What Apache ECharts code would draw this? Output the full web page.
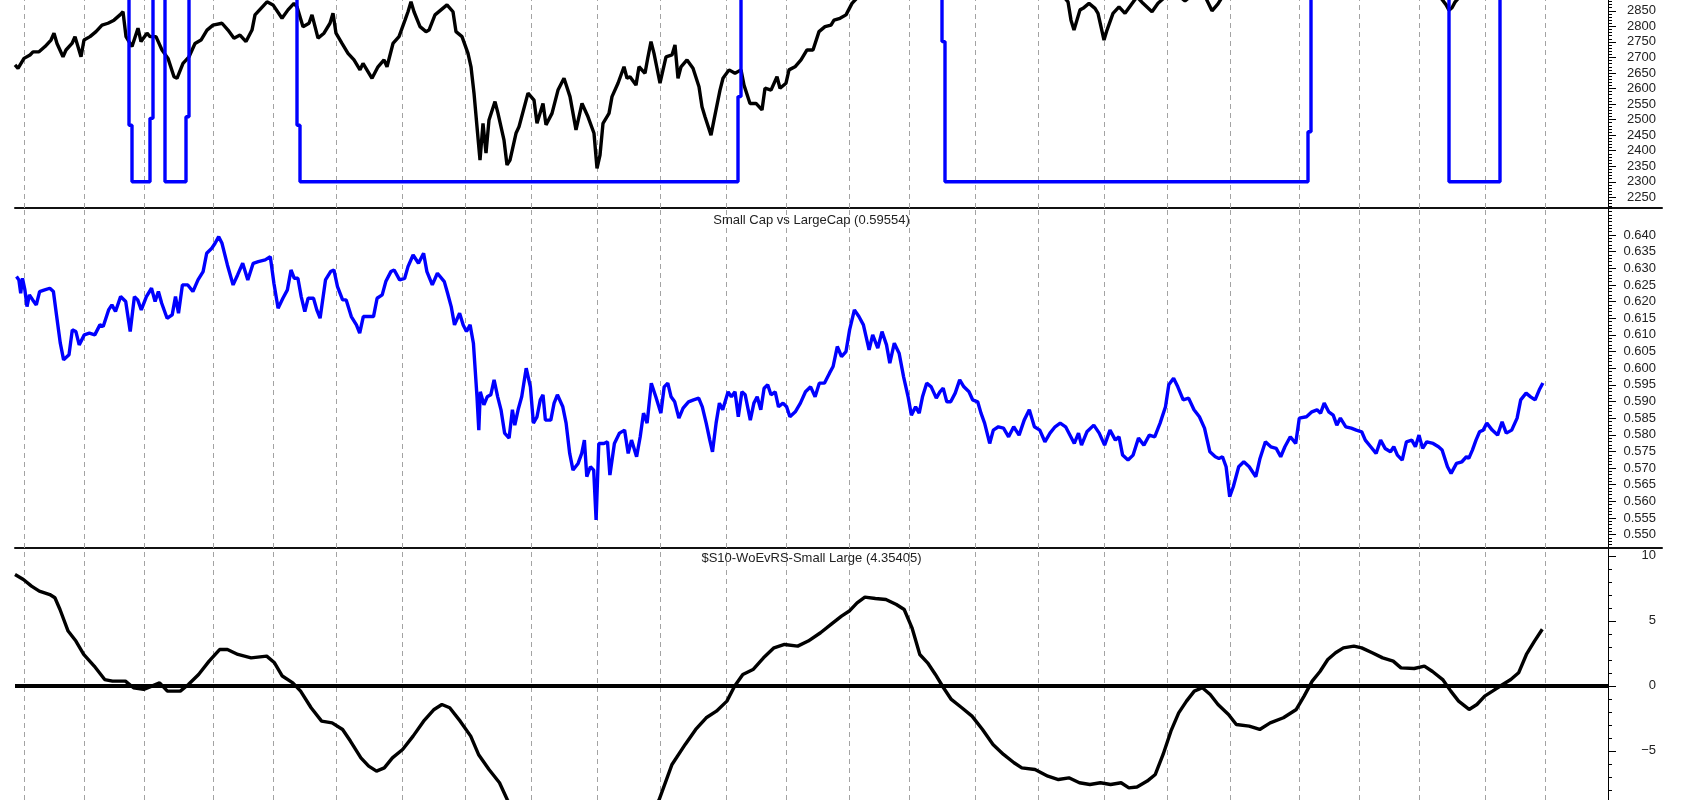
<!DOCTYPE html>
<html>
<head>
<meta charset="utf-8">
<script src="https://cdn.jsdelivr.net/npm/echarts@6/dist/echarts.min.js"></script>
<style>
html,body{margin:0;padding:0;background:#fff;}
#c{width:1691px;height:800px;}
</style>
</head>
<body>
<div id="c"></div>
<script>
// ---- Data (trading-day index, value) ----
const priceSeries = [[0,2676],[1,2665],[3,2697],[5,2708],[6,2718],[8,2718],[10,2735],[12,2756],[13,2778],[14,2745],[16,2702],[17,2724],[19,2745],[20,2767],[22,2702],[23,2756],[25,2767],[27,2783],[29,2804],[31,2810],[33,2820],[35,2837],[36,2847],[37,2767],[39,2735],[41,2794],[42,2751],[44,2778],[45,2767],[47,2767],[49,2724],[51,2697],[53,2638],[54,2633],[56,2681],[58,2702],[60,2745],[62,2756],[64,2788],[66,2804],[69,2810],[71,2788],[73,2762],[75,2772],[77,2751],[79,2788],[80,2837],[82,2858],[84,2879],[86,2869],[89,2826],[91,2853],[93,2874],[94,2863],[96,2799],[98,2810],[99,2837],[101,2762],[103,2778],[105,2810],[106,2842],[107,2778],[109,2745],[111,2713],[113,2692],[115,2660],[116,2681],[119,2633],[121,2670],[123,2692],[124,2670],[126,2745],[128,2767],[130,2820],[131,2847],[132,2879],[133,2847],[135,2799],[137,2783],[138,2788],[140,2837],[142,2853],[144,2869],[146,2847],[147,2783],[149,2767],[151,2713],[152,2670],[153,2585],[154,2477],[155,2370],[156,2488],[157,2392],[158,2499],[160,2558],[161,2520],[163,2434],[164,2354],[165,2370],[167,2456],[168,2477],[171,2585],[173,2563],[174,2488],[176,2552],[177,2483],[179,2520],[181,2595],[183,2633],[185,2574],[187,2467],[189,2552],[191,2509],[193,2456],[194,2343],[195,2386],[196,2488],[198,2520],[199,2574],[201,2617],[203,2670],[204,2633],[205,2638],[207,2611],[208,2670],[210,2649],[211,2702],[212,2751],[213,2713],[215,2617],[217,2702],[219,2708],[220,2740],[221,2633],[222,2670],[224,2692],[226,2665],[228,2606],[229,2541],[230,2509],[232,2450],[233,2499],[235,2595],[236,2633],[238,2660],[240,2649],[242,2660],[243,2611],[245,2552],[247,2552],[249,2531],[250,2601],[252,2595],[254,2638],[255,2601],[257,2617],[258,2660],[260,2670],[262,2692],[264,2724],[266,2724],[268,2783],[270,2799],[272,2804],[273,2820],[275,2826],[277,2837],[279,2874],[282,2905],[290,2935],[300,2955],[310,2965],[320,2985],[330,2990],[340,2965],[347,2925],[351,2879],[352,2820],[353,2788],[355,2853],[356,2858],[358,2874],[360,2858],[361,2842],[363,2756],[364,2788],[366,2842],[368,2863],[370,2842],[372,2869],[374,2895],[376,2874],[379,2847],[381,2874],[384,2900],[387,2905],[390,2882],[393,2905],[396,2910],[399,2850],[401,2872],[404,2920],[415,2950],[430,2975],[445,2990],[460,2960],[470,2925],[475,2895],[477,2870],[478,2852],[479,2860],[480,2878],[482,2900],[490,2935],[500,2960],[509,2985]];

const signalSeries = [[0,3000],[38,2482],[39,2300],[45,2504],[46,3000],[50,2300],[57,2509],[58,3000],[94,2482],[95,2300],[241,2574],[242,3000],[309,2751],[310,2300],[431,2461],[432,3000],[478,2300],[495,3000],[509,3000]];

const ratioSeries = [[0.5,0.6275],[1.3,0.6265],[1.9,0.6225],[2.5,0.6270],[3.3,0.6235],[4.0,0.6185],[4.8,0.6220],[5.9,0.6205],[7.1,0.6190],[8.2,0.6230],[9.9,0.6235],[11.6,0.6240],[12.8,0.6230],[13.9,0.6155],[15.1,0.6075],[16.2,0.6025],[18.0,0.6040],[19.1,0.6115],[20.3,0.6110],[21.4,0.6070],[23.1,0.6100],[24.8,0.6105],[26.6,0.6100],[28.3,0.6130],[29.4,0.6125],[31.2,0.6175],[32.3,0.6190],[33.5,0.6170],[35.2,0.6215],[36.9,0.6200],[38.4,0.6110],[39.8,0.6215],[40.9,0.6205],[42.1,0.6175],[43.8,0.6215],[45.5,0.6240],[46.7,0.6200],[47.8,0.6230],[48.9,0.6195],[50.7,0.6150],[52.4,0.6160],[53.5,0.6215],[54.5,0.6165],[55.8,0.6250],[57.6,0.6250],[59.3,0.6230],[61.0,0.6265],[62.7,0.6290],[63.9,0.6345],[65.6,0.6360],[66.7,0.6375],[67.9,0.6395],[69.0,0.6375],[70.8,0.6310],[72.7,0.6250],[74.2,0.6280],[75.9,0.6315],[77.6,0.6265],[79.4,0.6315],[81.1,0.6320],[83.4,0.6325],[85.1,0.6335],[86.3,0.6255],[87.7,0.6180],[89.3,0.6210],[90.8,0.6235],[92.0,0.6295],[93.1,0.6270],[94.3,0.6270],[95.4,0.6215],[96.6,0.6170],[97.7,0.6210],[99.5,0.6210],[100.6,0.6175],[101.7,0.6150],[103.5,0.6265],[105.2,0.6290],[106.3,0.6295],[107.5,0.6245],[109.2,0.6205],[110.4,0.6205],[112.1,0.6155],[113.8,0.6130],[114.9,0.6105],[116.1,0.6155],[117.8,0.6155],[119.5,0.6155],[120.7,0.6210],[122.4,0.6220],[123.6,0.6260],[125.3,0.6290],[126.4,0.6295],[128.2,0.6265],[129.9,0.6270],[131.0,0.6305],[132.7,0.6340],[134.5,0.6315],[136.2,0.6345],[137.3,0.6290],[139.1,0.6250],[140.8,0.6285],[143.1,0.6260],[144.2,0.6225],[145.4,0.6185],[146.5,0.6130],[148.2,0.6165],[149.4,0.6130],[150.5,0.6110],[151.7,0.6130],[152.8,0.6075],[153.4,0.5995],[154.0,0.5914],[154.6,0.5814],[155.1,0.5929],[156.3,0.5890],[157.4,0.5914],[158.6,0.5920],[159.7,0.5965],[160.9,0.5914],[162.0,0.5875],[163.2,0.5805],[164.7,0.5790],[165.8,0.5875],[166.6,0.5829],[167.7,0.5875],[168.9,0.5914],[170.4,0.6000],[171.8,0.5944],[172.8,0.5835],[174.0,0.5854],[175.1,0.5905],[176.0,0.5920],[176.8,0.5844],[178.6,0.5844],[179.7,0.5895],[180.8,0.5920],[182.6,0.5884],[183.7,0.5835],[184.9,0.5744],[186.0,0.5694],[187.7,0.5714],[188.9,0.5744],[189.8,0.5784],[190.6,0.5674],[191.8,0.5704],[192.9,0.5694],[193.7,0.5544],[194.6,0.5774],[196.3,0.5774],[197.5,0.5779],[198.3,0.5679],[199.8,0.5774],[201.5,0.5805],[203.2,0.5814],[204.4,0.5744],[205.5,0.5784],[207.2,0.5734],[208.4,0.5794],[209.5,0.5865],[210.7,0.5835],[212.1,0.5955],[213.6,0.5914],[215.3,0.5865],[216.4,0.5944],[217.6,0.5955],[218.7,0.5914],[219.9,0.5899],[221.3,0.5850],[222.7,0.5880],[224.5,0.5899],[226.2,0.5905],[227.9,0.5910],[229.1,0.5884],[230.4,0.5835],[231.6,0.5784],[232.5,0.5749],[233.7,0.5835],[234.8,0.5895],[235.9,0.5875],[237.7,0.5929],[238.8,0.5914],[240.0,0.5929],[241.1,0.5854],[242.3,0.5929],[243.4,0.5920],[245.1,0.5844],[246.3,0.5895],[247.4,0.5914],[248.6,0.5875],[249.7,0.5940],[250.9,0.5950],[252.0,0.5920],[253.4,0.5929],[254.5,0.5884],[256.0,0.5895],[257.2,0.5884],[258.3,0.5854],[260.1,0.5869],[261.8,0.5895],[263.5,0.5929],[265.2,0.5944],[266.7,0.5914],[268.1,0.5955],[269.8,0.5955],[271.5,0.5985],[272.7,0.6005],[274.1,0.6065],[275.5,0.6035],[277.0,0.6050],[278.2,0.6115],[279.8,0.6175],[281.3,0.6155],[282.8,0.6130],[284.7,0.6055],[285.9,0.6100],[287.6,0.6060],[289.0,0.6110],[290.5,0.6070],[291.6,0.6015],[293.1,0.6075],[294.7,0.6045],[296.2,0.5974],[297.7,0.5914],[298.8,0.5859],[300.2,0.5884],[301.4,0.5865],[302.5,0.5914],[303.9,0.5955],[305.4,0.5944],[307.1,0.5910],[308.3,0.5929],[309.4,0.5940],[310.6,0.5899],[311.9,0.5899],[313.4,0.5925],[314.9,0.5965],[316.3,0.5944],[318.0,0.5929],[319.2,0.5905],[320.9,0.5899],[322.0,0.5865],[323.2,0.5835],[324.9,0.5774],[326.1,0.5814],[327.8,0.5824],[329.5,0.5820],[331.2,0.5794],[332.9,0.5824],[334.7,0.5799],[336.4,0.5844],[338.1,0.5875],[339.8,0.5824],[341.6,0.5814],[343.3,0.5779],[345.0,0.5805],[346.7,0.5824],[348.4,0.5835],[350.2,0.5824],[353.1,0.5774],[354.5,0.5805],[355.5,0.5769],[357.3,0.5809],[359.6,0.5829],[361.4,0.5805],[363.2,0.5769],[365.0,0.5814],[366.8,0.5784],[368.0,0.5794],[369.2,0.5739],[371.0,0.5724],[372.7,0.5739],[374.5,0.5790],[376.3,0.5769],[378.1,0.5799],[379.9,0.5794],[381.7,0.5835],[383.5,0.5884],[384.6,0.5950],[386.2,0.5970],[387.6,0.5944],[389.4,0.5905],[391.2,0.5910],[393.0,0.5875],[394.8,0.5854],[396.5,0.5820],[398.3,0.5749],[400.1,0.5734],[401.3,0.5729],[402.5,0.5734],[403.7,0.5704],[404.9,0.5614],[406.1,0.5644],[407.9,0.5704],[409.6,0.5719],[411.4,0.5704],[413.6,0.5674],[415.0,0.5729],[416.8,0.5779],[418.6,0.5764],[420.4,0.5759],[421.9,0.5734],[423.3,0.5764],[425.1,0.5794],[426.9,0.5774],[428.1,0.5850],[430.5,0.5854],[432.3,0.5869],[434.0,0.5875],[435.2,0.5865],[436.4,0.5895],[437.9,0.5869],[439.4,0.5859],[440.6,0.5829],[441.8,0.5850],[443.6,0.5824],[445.4,0.5820],[447.1,0.5814],[448.9,0.5809],[450.1,0.5784],[451.9,0.5764],[453.7,0.5744],[455.2,0.5784],[456.7,0.5759],[458.5,0.5749],[459.6,0.5764],[460.8,0.5739],[462.4,0.5724],[463.8,0.5779],[465.6,0.5784],[466.8,0.5764],[468.0,0.5799],[469.2,0.5759],[470.6,0.5779],[472.7,0.5774],[474.5,0.5764],[475.7,0.5754],[477.5,0.5704],[478.7,0.5684],[480.5,0.5714],[482.3,0.5719],[483.8,0.5734],[484.6,0.5729],[485.8,0.5754],[487.0,0.5784],[488.2,0.5809],[489.4,0.5814],[490.6,0.5835],[492.4,0.5814],[494.2,0.5799],[495.7,0.5839],[497.1,0.5805],[498.9,0.5814],[500.7,0.5850],[501.9,0.5905],[503.7,0.5925],[505.2,0.5914],[506.7,0.5905],[508.1,0.5935],[509.3,0.59554]];

const oscSeries = [[0,8.56],[2.8,8.18],[5.5,7.67],[8.1,7.28],[11.6,7.02],[13.3,6.77],[15.0,5.87],[17.7,4.21],[20.3,3.44],[22.9,2.41],[26.4,1.52],[29.9,0.48],[32.5,0.36],[36.8,0.36],[39.5,-0.15],[42.9,-0.28],[45.6,-0.02],[48.2,0.23],[50.8,-0.41],[55.1,-0.41],[57.8,0.10],[61.2,0.87],[64.7,1.90],[68.2,2.79],[70.8,2.79],[74.3,2.41],[78.7,2.15],[83.9,2.28],[86.5,1.77],[89.1,0.75],[92.6,0.23],[95.2,-0.41],[98.7,-1.69],[102.2,-2.72],[105.7,-2.85],[109.2,-3.36],[111.8,-4.25],[115.3,-5.54],[117.9,-6.18],[120.5,-6.56],[123.1,-6.31],[125.8,-5.54],[129.2,-4.90],[132.7,-3.87],[136.2,-2.72],[139.7,-1.82],[142.3,-1.44],[144.9,-1.69],[148.4,-2.72],[151.9,-3.87],[154.5,-5.28],[158.0,-6.44],[161.5,-7.46],[164.1,-8.77],[168,-10.2],[174,-11.6],[182,-12.8],[190,-13.3],[198,-13.2],[205,-12.4],[210,-11.2],[214.7,-8.77],[219.0,-6.05],[223.4,-4.51],[226.9,-3.36],[230.4,-2.46],[233.8,-1.95],[237.3,-1.18],[239.9,-0.02],[242.6,0.87],[246.0,1.25],[249.5,2.15],[253.0,2.92],[256.5,3.18],[260.9,3.05],[264.4,3.44],[268.5,4.08],[272.0,4.72],[275.5,5.36],[278.1,5.75],[280.7,6.38],[283.3,6.82],[286.8,6.72],[290.3,6.64],[293.8,6.25],[296.4,5.87],[299.0,4.46],[301.6,2.41],[304.2,1.77],[306.8,0.87],[309.5,-0.15],[312.1,-1.05],[315.6,-1.69],[319.0,-2.33],[322.5,-3.36],[326.0,-4.51],[329.5,-5.28],[333.0,-5.92],[335.6,-6.31],[340.0,-6.44],[344.3,-6.95],[347.8,-7.21],[351.3,-7.08],[354.8,-7.46],[358.3,-7.59],[361.8,-7.46],[365.2,-7.59],[368.7,-7.46],[371.3,-7.85],[374.0,-7.79],[377.4,-7.33],[380.1,-6.82],[382.7,-5.28],[385.3,-3.49],[387.9,-2.08],[390.5,-1.18],[393.1,-0.41],[395.8,-0.15],[398.4,-0.67],[401.0,-1.44],[404.5,-2.21],[407.1,-2.98],[411.4,-3.10],[414.9,-3.36],[418.4,-2.85],[422.8,-2.46],[427.1,-1.82],[429.7,-0.79],[432.4,0.36],[435.0,1.10],[437.6,2.02],[440.2,2.54],[442.8,2.92],[446.3,3.05],[448.9,2.92],[452.4,2.54],[455.9,2.15],[459.4,1.90],[462.0,1.38],[466.4,1.33],[469.8,1.52],[472.5,1.10],[475.9,0.48],[478.6,-0.41],[481.2,-1.18],[484.7,-1.82],[487.3,-1.44],[489.9,-0.79],[492.5,-0.41],[495.1,-0.02],[498.6,0.48],[501.2,1.00],[503.8,2.41],[506.5,3.44],[509.1,4.35405]];

const monthDays = [3, 23, 43, 66, 86, 107, 129, 150, 172, 194, 215, 237, 257, 278, 298, 320, 341, 363, 384, 405, 428, 448, 468, 490, 510];

const priceTicks = [2250, 2300, 2350, 2400, 2450, 2500, 2550, 2600, 2650, 2700, 2750, 2800, 2850];
const ratioTicks = [0.550, 0.555, 0.560, 0.565, 0.570, 0.575, 0.580, 0.585, 0.590, 0.595, 0.600, 0.605, 0.610, 0.615, 0.620, 0.625, 0.630, 0.635, 0.640];
const oscTicks = [-5, 0, 5, 10];
const zeroLevel = 0;

const ratioTitle = 'Small Cap vs LargeCap (0.59554)';
const oscTitle = '$S10-WoEvRS-Small Large (4.35405)';

// ---- Chart ----
const FONT = '"Liberation Sans", Arial, sans-serif';
const X_MAX = 549;
const AXIS_END_DAY = 531;
const LW = 3.4;

function range(a, b, step, dec) {
  const out = [];
  const n = Math.round((b - a) / step);
  for (let i = 0; i <= n; i++) out.push(+(a + i * step).toFixed(dec));
  return out;
}
const priceMinor = range(2220, 2880, 10, 0);
const ratioMinor = range(0.547, 0.648, 0.001, 3);
const oscMinor = range(-8, 10, 1, 0);

function majorAxis(gi, min, max, ticks, fmt) {
  return {
    type: 'value', gridIndex: gi, min: min, max: max, position: 'right', offset: -54,
    axisLine: { show: true, onZero: false, lineStyle: { color: '#000', width: 1 } },
    axisTick: { show: true, inside: false, length: 8, customValues: ticks, lineStyle: { color: '#000', width: 1 } },
    axisLabel: { show: true, customValues: ticks, formatter: fmt, align: 'right', margin: 48,
      fontSize: 13, fontFamily: FONT, color: '#222' },
    splitLine: { show: false }
  };
}
function minorAxis(gi, min, max, ticks) {
  return {
    type: 'value', gridIndex: gi, min: min, max: max, position: 'right', offset: -54,
    axisLine: { show: false, onZero: false },
    axisTick: { show: true, inside: false, length: 4, customValues: ticks, lineStyle: { color: '#000', width: 1 } },
    axisLabel: { show: false },
    splitLine: { show: false }
  };
}
function xAx(gi, showLine) {
  return {
    type: 'value', gridIndex: gi, min: 0, max: X_MAX,
    axisLine: { show: showLine, onZero: false, lineStyle: { color: '#111', width: 2 } },
    axisTick: { show: false }, axisLabel: { show: false }, splitLine: { show: false }
  };
}

const vLineData = monthDays.map(d => ({ xAxis: d }));
function vLines(extra) {
  return {
    silent: true, z: 1, animation: false, symbol: ['none', 'none'],
    label: { show: false }, emphasis: { disabled: true },
    lineStyle: { color: '#a3a3a3', width: 1, type: [5, 4] },
    data: extra ? vLineData.concat(extra) : vLineData
  };
}

const option = {
  backgroundColor: '#ffffff',
  animation: false,
  grid: [
    { left: 15, right: 29, top: 0, height: 208 },
    { left: 15, right: 29, top: 208, height: 340 },
    { left: 15, right: 29, top: 548, bottom: 0 }
  ],
  xAxis: [xAx(0, true), xAx(1, true), xAx(2, false)],
  yAxis: [
    majorAxis(0, 2215.6, 2884.8, priceTicks, v => String(v)),
    minorAxis(0, 2215.6, 2884.8, priceMinor),
    majorAxis(1, 0.546, 0.6481, ratioTicks, v => (+v).toFixed(3)),
    minorAxis(1, 0.546, 0.6481, ratioMinor),
    majorAxis(2, -8.785, 10.6, oscTicks, v => (v < 0 ? '\u2212' + Math.abs(v) : String(v))),
    minorAxis(2, -8.785, 10.6, oscMinor)
  ],
  series: [
    { type: 'line', name: 'price', xAxisIndex: 0, yAxisIndex: 0, data: priceSeries,
      symbol: 'none', showSymbol: false, clip: true, z: 3,
      lineStyle: { color: '#000', width: LW }, itemStyle: { color: '#000' },
      markLine: vLines() },
    { type: 'line', name: 'signal', xAxisIndex: 0, yAxisIndex: 0, data: signalSeries, step: 'end',
      symbol: 'none', showSymbol: false, clip: true, z: 4,
      lineStyle: { color: '#0000ff', width: LW }, itemStyle: { color: '#0000ff' } },
    { type: 'line', name: 'ratio', xAxisIndex: 1, yAxisIndex: 2, data: ratioSeries,
      symbol: 'none', showSymbol: false, clip: true, z: 3,
      lineStyle: { color: '#0000ff', width: LW }, itemStyle: { color: '#0000ff' },
      markLine: vLines() },
    { type: 'line', name: 'osc', xAxisIndex: 2, yAxisIndex: 4, data: oscSeries,
      symbol: 'none', showSymbol: false, clip: true, z: 3,
      lineStyle: { color: '#000', width: LW }, itemStyle: { color: '#000' },
      markLine: vLines([[
        { coord: [0, zeroLevel], lineStyle: { color: '#000', width: 4, type: 'solid' } },
        { coord: [AXIS_END_DAY, zeroLevel] }
      ]]) }
  ],
  graphic: [
    { type: 'text', x: 811.5, y: 220, z: 10,
      style: { text: ratioTitle, font: '13px ' + FONT, fill: '#222', align: 'center', verticalAlign: 'middle',
               textAlign: 'center', textVerticalAlign: 'middle' } },
    { type: 'text', x: 811.5, y: 558, z: 10,
      style: { text: oscTitle, font: '13px ' + FONT, fill: '#222', align: 'center', verticalAlign: 'middle',
               textAlign: 'center', textVerticalAlign: 'middle' } }
  ]
};

const chart = echarts.init(document.getElementById('c'), null, { renderer: 'canvas', width: 1691, height: 800 });
chart.setOption(option);
</script>
</body>
</html>
